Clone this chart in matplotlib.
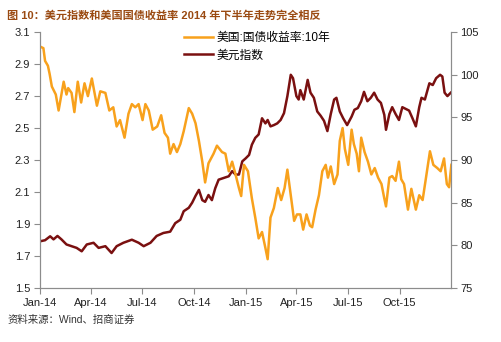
## 美元指数 vs 美国国债收益率 2014-2015

import numpy as np
import matplotlib
matplotlib.use("Agg")
import matplotlib.pyplot as plt
import matplotlib.dates as mdates

plt.rcParams['font.family'] = ['Liberation Sans', 'Noto Sans CJK SC']

# Données (jours depuis le 2014-01-01)
start = np.datetime64('2014-01-01')

yield_days = [0, 6, 9, 14, 17, 21, 28, 33, 42, 47, 50, 56, 61, 67, 73, 79, 85, 92,
              101, 107, 116, 123, 130, 136, 142, 150, 157, 163, 169, 175, 182, 187,
              193, 200, 208, 215, 221, 227, 231, 237, 243, 249, 255, 264, 270, 276,
              282, 288, 293, 299, 308, 314, 323, 329, 335, 341, 347, 353, 357, 362,
              369, 376, 382, 388, 394, 400, 404, 409, 415, 422, 428, 434, 439, 445,
              451, 456, 462, 467, 473, 479, 483, 489, 495, 501, 507, 511, 516, 522,
              528, 532, 537, 541, 547, 553, 557, 562, 566, 570, 576, 582, 588, 594,
              600, 606, 611, 614, 620, 625, 631, 637, 641, 646, 653, 659, 667, 673,
              679, 685, 692, 698, 705, 711, 717, 722, 726, 730]
yield_10y = [3.01, 3.00, 2.92, 2.89, 2.84, 2.76, 2.71, 2.61, 2.79, 2.71, 2.75, 2.72,
             2.60, 2.79, 2.66, 2.78, 2.70, 2.81, 2.64, 2.73, 2.72, 2.61, 2.63, 2.51,
             2.55, 2.44, 2.59, 2.65, 2.63, 2.65, 2.55, 2.65, 2.61, 2.49, 2.51, 2.58,
             2.47, 2.44, 2.34, 2.40, 2.35, 2.40, 2.48, 2.625, 2.59, 2.53, 2.42, 2.29,
             2.16, 2.28, 2.34, 2.39, 2.35, 2.34, 2.23, 2.29, 2.21, 2.125, 2.075, 2.27,
             2.23, 2.06, 1.94, 1.81, 1.85, 1.75, 1.68, 1.94, 2.00, 2.125, 2.05, 2.125,
             2.24, 2.08, 1.92, 1.96, 1.96, 1.865, 1.96, 1.89, 1.88, 1.99, 2.08, 2.23,
             2.27, 2.19, 2.26, 2.15, 2.21, 2.42, 2.50, 2.37, 2.27, 2.49, 2.40, 2.34,
             2.23, 2.44, 2.35, 2.29, 2.21, 2.25, 2.19, 2.15, 2.06, 2.01, 2.19, 2.20,
             2.17, 2.29, 2.18, 2.15, 1.99, 2.12, 1.99, 2.08, 2.05, 2.19, 2.355, 2.27,
             2.25, 2.23, 2.31, 2.15, 2.13, 2.27]

dxy_days = [0, 9, 18, 24, 31, 38, 47, 56, 65, 74, 83, 95, 104, 116, 127, 136, 148,
            163, 175, 184, 196, 207, 219, 231, 240, 249, 255, 264, 270, 276, 282,
            288, 293, 299, 305, 311, 317, 326, 335, 341, 347, 353, 359, 365, 371,
            376, 382, 388, 394, 400, 404, 409, 415, 421, 427, 433, 439, 445, 449,
            455, 459, 462, 468, 475, 480, 486, 492, 498, 504, 510, 516, 522, 526,
            532, 538, 545, 553, 558, 564, 570, 575, 581, 587, 593, 599, 605, 611,
            614, 620, 625, 631, 637, 643, 649, 655, 661, 667, 673, 677, 683, 691,
            697, 703, 710, 714, 718, 723, 729]
dxy = [80.47, 80.6, 81.06, 80.7, 81.1, 80.7, 80.1, 79.9, 79.7, 79.3, 80.1, 80.3,
       79.7, 79.9, 79.1, 79.9, 80.3, 80.66, 80.3, 79.9, 80.3, 81.1, 81.45, 81.6,
       82.6, 83.0, 84.0, 84.4, 85.0, 85.8, 86.5, 85.3, 85.1, 85.9, 85.3, 86.7,
       87.7, 87.9, 88.1, 88.7, 88.3, 88.3, 89.85, 90.2, 90.6, 91.8, 92.6, 93.0,
       94.9, 94.3, 94.7, 93.95, 94.1, 94.3, 94.7, 95.5, 97.5, 100.0, 99.6, 97.5,
       97.1, 98.2, 97.1, 99.4, 97.9, 97.3, 95.7, 95.2, 94.6, 93.4, 95.4, 97.1,
       97.3, 95.7, 94.9, 94.1, 95.1, 95.9, 96.1, 96.9, 98.0, 96.9, 97.3, 97.9,
       97.1, 96.7, 95.3, 93.55, 95.4, 96.2, 95.4, 94.7, 96.2, 96.0, 95.8, 94.9,
       93.95, 96.2, 97.3, 97.1, 99.0, 98.8, 99.6, 100.0, 99.8, 97.9, 97.5, 97.9]

yield_dates = start + np.array(yield_days).astype('timedelta64[D]')
dxy_dates = start + np.array(dxy_days).astype('timedelta64[D]')

fig = plt.figure(figsize=(5.02, 3.42), dpi=100)
ax = fig.add_axes([0.0797, 0.158, 0.8183, 0.748])
ax2 = ax.twinx()

l1, = ax.plot(yield_dates, yield_10y, color='#F8A11C', lw=1.8, label='美国:国债收益率:10年')
l2, = ax2.plot(dxy_dates, dxy, color='#7A1010', lw=1.8, label='美元指数')
ax.set_zorder(ax2.get_zorder() + 1)
ax.patch.set_visible(False)

ax.set_ylim(1.5, 3.1)
ax.set_yticks(np.arange(1.5, 3.11, 0.2))
ax.yaxis.set_major_formatter(matplotlib.ticker.FormatStrFormatter('%.1f'))
ax2.set_ylim(75, 105)
ax2.set_yticks(np.arange(75, 106, 5))

ax.set_xlim(np.datetime64('2014-01-01'), np.datetime64('2015-12-31'))
ax.xaxis.set_major_locator(mdates.MonthLocator(bymonth=[1, 4, 7, 10]))
ax.xaxis.set_major_formatter(mdates.DateFormatter('%b-%y'))

for a in (ax, ax2):
    a.spines['top'].set_visible(False)
    for s in ('left', 'right', 'bottom'):
        a.spines[s].set_color('#8c8c8c')
    a.tick_params(colors='#8c8c8c', labelcolor='#222222', labelsize=8, length=4, width=0.8)

ax.tick_params(axis='y', pad=3)
ax2.tick_params(axis='y', pad=3)

fig.legend(handles=[l1, l2], loc='upper left', bbox_to_anchor=(0.358, 0.92),
           frameon=False, fontsize=8.5, handlelength=2.4, handletextpad=0.3,
           labelspacing=0.45, borderaxespad=0)

fig.text(0.014, 0.955, '图 10：美元指数和美国国债收益率 2014 年下半年走势完全相反',
         color='#9A4A12', fontsize=8, fontweight='bold', va='center')
fig.text(0.014, 0.065, '资料来源：Wind、招商证券', color='#333333', fontsize=7.5, va='center')

fig.savefig('out.png', dpi=100)
